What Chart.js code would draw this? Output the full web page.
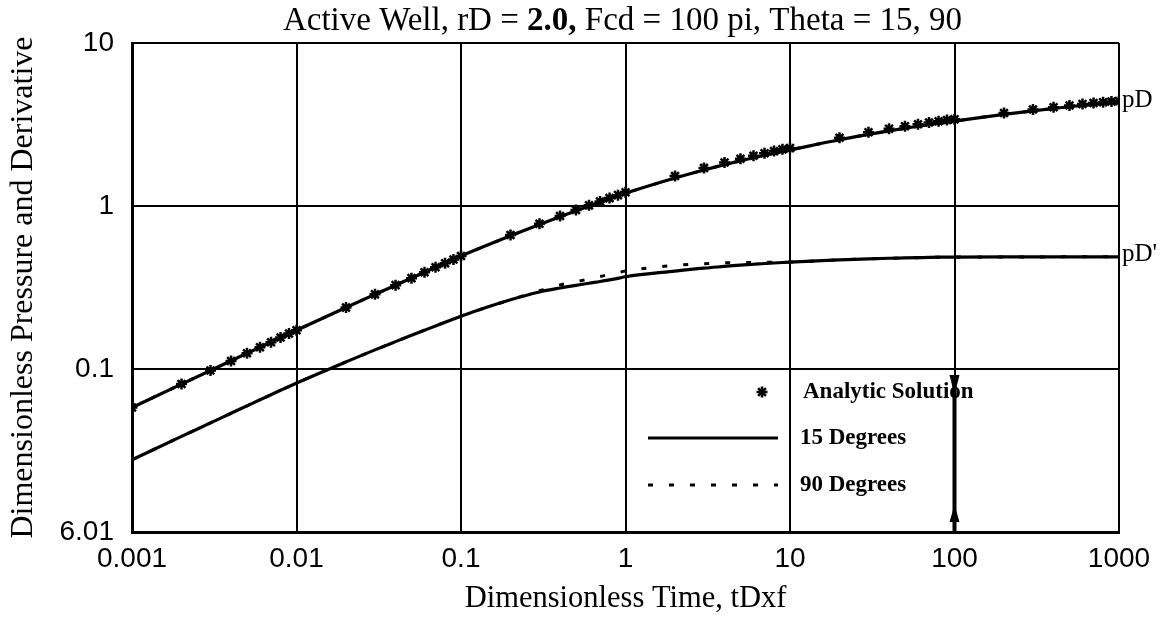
<!DOCTYPE html>
<html lang="en">
<head>
<meta charset="UTF-8">
<title>Active Well, rD = 2.0, Fcd = 100 pi</title>
<script src="https://cdn.jsdelivr.net/npm/chart.js@4"></script>
<style>
  html, body { margin: 0; padding: 0; background: #fff; }
</style>
</head>
<body>
<canvas id="chart" width="1166" height="628"></canvas>
<script>
// dimensionless time, 1..9 per decade
const tDxf = [
  0.001, 0.002, 0.003, 0.004, 0.005, 0.006, 0.007, 0.008, 0.009,
  0.01, 0.02, 0.03, 0.04, 0.05, 0.06, 0.07, 0.08, 0.09,
  0.1, 0.2, 0.3, 0.4, 0.5, 0.6, 0.7, 0.8, 0.9,
  1, 2, 3, 4, 5, 6, 7, 8, 9,
  10, 20, 30, 40, 50, 60, 70, 80, 90,
  100, 200, 300, 400, 500, 600, 700, 800, 900, 1000
];

// pressure, theta = 15 degrees
const pD15 = [
  0.058, 0.0808, 0.098, 0.1123, 0.1248, 0.136, 0.1463, 0.1558, 0.1646,
  0.173, 0.2383, 0.2868, 0.3267, 0.3614, 0.3924, 0.4205, 0.4463, 0.4704,
  0.493, 0.656, 0.770, 0.860, 0.935, 0.999, 1.056, 1.107, 1.154,
  1.197, 1.484, 1.663, 1.793, 1.894, 1.977, 2.048, 2.108, 2.161,
  2.208, 2.549, 2.749, 2.890, 2.998, 3.085, 3.157, 3.218, 3.272,
  3.319, 3.649, 3.836, 3.965, 4.062, 4.140, 4.203, 4.258, 4.304, 4.345
];

// derivative, theta = 15 degrees
const pDprime15 = [
  0.0277, 0.0386, 0.0467, 0.0535, 0.0594, 0.0647, 0.0695, 0.0740, 0.0781,
  0.0820, 0.1106, 0.1310, 0.1472, 0.1610, 0.1730, 0.1838, 0.1936, 0.2025,
  0.211, 0.266, 0.297, 0.314, 0.326, 0.336, 0.344, 0.352, 0.360,
  0.368, 0.399, 0.416, 0.426, 0.434, 0.439, 0.444, 0.447, 0.450,
  0.453, 0.467, 0.474, 0.478, 0.480, 0.482, 0.484, 0.485, 0.485,
  0.486, 0.487, 0.487, 0.487, 0.488, 0.488, 0.488, 0.488, 0.488, 0.488
];

// theta = 90 degrees: pressure lies on the 15 degree curve
const pD90 = pD15;
const pDprime90 = [
  0.0277, 0.0386, 0.0467, 0.0535, 0.0594, 0.0647, 0.0695, 0.0740, 0.0781,
  0.0820, 0.1106, 0.1310, 0.1472, 0.1610, 0.1730, 0.1838, 0.1936, 0.2025,
  0.211, 0.266, 0.302, 0.328, 0.343, 0.357, 0.369, 0.381, 0.391,
  0.399, 0.432, 0.443, 0.448, 0.450, 0.450, 0.451, 0.452, 0.452,
  0.453, 0.467, 0.474, 0.478, 0.480, 0.482, 0.484, 0.485, 0.485,
  0.486, 0.487, 0.487, 0.487, 0.488, 0.488, 0.488, 0.488, 0.488, 0.488
];

// analytic solution for pD
const pDAnalytic = [
  0.058, 0.081, 0.098, 0.112, 0.125, 0.136, 0.146, 0.156, 0.165,
  0.173, 0.238, 0.287, 0.327, 0.361, 0.392, 0.421, 0.446, 0.470,
  0.493, 0.663, 0.778, 0.869, 0.944, 1.009, 1.067, 1.118, 1.166,
  1.215, 1.529, 1.713, 1.847, 1.951, 2.036, 2.109, 2.171, 2.226,
  2.265, 2.625, 2.831, 2.977, 3.088, 3.178, 3.252, 3.315, 3.37,
  3.40, 3.72, 3.91, 4.04, 4.14, 4.22, 4.28, 4.33, 4.37, 4.40
];

const xTickValues = [0.001, 0.01, 0.1, 1, 10, 100, 1000];
const xTickLabels = ['0.001', '0.01', '0.1', '1', '10', '100', '1000'];
const yTickValues = [0.01, 0.1, 1, 10];
const yTickLabels = ['6.01', '0.1', '1', '10'];
const curveLabels = ['pD', "pD'"];
const legendLabels = ['Analytic Solution', '15 Degrees', '90 Degrees'];
const titleParts = [['Active Well, rD = ', 'normal'], ['2.0,', 'bold'], [' Fcd = 100 pi, Theta = 15, 90', 'normal']];

// vertical bar with arrowheads at tDxf = 100
const markerTime = 100;
const markerRange = [0.0115, 0.092];

const SERIF = '"Liberation Serif", "Times New Roman", serif';
const SANS = '"Liberation Sans", Arial, sans-serif';

const pts = (ys) => tDxf.map((x, i) => ({ x, y: ys[i] }));

const overlay = {
  id: 'overlay',
  afterDraw(chart) {
    const { ctx, chartArea, scales } = chart;
    const xs = scales.x, ys = scales.y;
    ctx.save();
    ctx.fillStyle = '#000';
    ctx.strokeStyle = '#000';

    // title, "2.0," set in bold
    ctx.textAlign = 'left';
    ctx.textBaseline = 'alphabetic';
    let total = 0;
    const parts = titleParts.map(([text, weight]) => {
      ctx.font = weight + ' 33px ' + SERIF;
      const w = ctx.measureText(text).width;
      total += w;
      return { text, font: ctx.font, w };
    });
    let tx = (chartArea.left + chartArea.right) / 2 - 3 - total / 2;
    parts.forEach(p => {
      ctx.font = p.font;
      ctx.fillText(p.text, tx, 30);
      tx += p.w;
    });

    // curve names at the right end
    ctx.font = '25px ' + SERIF;
    ctx.textBaseline = 'middle';
    [pD15, pDprime15].forEach((vals, i) => {
      ctx.fillText(curveLabels[i], chartArea.right + 3, ys.getPixelForValue(vals[vals.length - 1]) - 2);
    });

    // legend
    ctx.lineWidth = 2.5;
    Chart.helpers.drawPoint(ctx, { pointStyle: 'star', radius: 5.5, rotation: 0, borderWidth: 2.5 }, 762, 392);
    ctx.lineWidth = 3;
    ctx.beginPath();
    ctx.moveTo(648, 438);
    ctx.lineTo(778, 438);
    ctx.stroke();
    ctx.setLineDash([5, 16]);
    ctx.beginPath();
    ctx.moveTo(648, 485);
    ctx.lineTo(778, 485);
    ctx.stroke();
    ctx.setLineDash([]);
    ctx.font = 'bold 23px ' + SERIF;
    ctx.fillText(legendLabels[0], 803, 392);
    ctx.fillText(legendLabels[1], 800, 438);
    ctx.fillText(legendLabels[2], 800, 485);

    // marker bar
    const mx = xs.getPixelForValue(markerTime);
    const mTop = ys.getPixelForValue(markerRange[1]);
    const mBase = ys.getPixelForValue(markerRange[0]);
    ctx.lineWidth = 4;
    ctx.beginPath();
    ctx.moveTo(mx, mTop);
    ctx.lineTo(mx, chartArea.bottom);
    ctx.stroke();
    ctx.beginPath();
    ctx.moveTo(mx - 5, mTop);
    ctx.lineTo(mx + 5, mTop);
    ctx.lineTo(mx, mTop + 20);
    ctx.closePath();
    ctx.fill();
    ctx.beginPath();
    ctx.moveTo(mx - 5, mBase);
    ctx.lineTo(mx + 5, mBase);
    ctx.lineTo(mx, mBase - 17);
    ctx.closePath();
    ctx.fill();

    ctx.restore();
  }
};

const lineStyle = {
  borderColor: '#000', backgroundColor: '#000', pointRadius: 0, fill: false,
  cubicInterpolationMode: 'monotone'
};

new Chart(document.getElementById('chart'), {
  type: 'line',
  data: {
    datasets: [
      { ...lineStyle, label: '90 Degrees pD', data: pts(pD90), borderWidth: 3, borderDash: [5, 16], order: 2 },
      { ...lineStyle, label: "90 Degrees pD'", data: pts(pDprime90), borderWidth: 3, borderDash: [5, 16], order: 2 },
      { ...lineStyle, label: '15 Degrees pD', data: pts(pD15), borderWidth: 3.2, order: 1 },
      { ...lineStyle, label: "15 Degrees pD'", data: pts(pDprime15), borderWidth: 3.2, order: 1 },
      {
        label: 'Analytic Solution', data: pts(pDAnalytic), showLine: false,
        pointStyle: 'star', pointRadius: 5.5, pointBorderWidth: 2.5,
        pointBorderColor: '#000', pointBackgroundColor: '#000', order: 0
      }
    ]
  },
  options: {
    responsive: false,
    animation: false,
    layout: { padding: { top: 43, right: 47, left: 0, bottom: 0 } },
    plugins: { legend: { display: false }, tooltip: { enabled: false }, title: { display: false } },
    scales: {
      x: {
        type: 'logarithmic',
        min: 0.001,
        max: 1000,
        afterBuildTicks: (scale) => { scale.ticks = xTickValues.map(v => ({ value: v })); },
        afterFit: (scale) => { scale.height = 96; },
        ticks: {
          color: '#000',
          font: { family: SANS, size: 28 },
          padding: 10,
          maxRotation: 0,
          autoSkip: false,
          callback: (v, i) => xTickLabels[i]
        },
        grid: { color: '#000', lineWidth: 2, drawTicks: false },
        border: { color: '#000', width: 3 },
        title: {
          display: true,
          text: 'Dimensionless Time, tDxf',
          color: '#000',
          font: { family: SERIF, size: 30.5 },
          padding: { top: 0, bottom: 11 }
        }
      },
      y: {
        type: 'logarithmic',
        min: 0.01,
        max: 10,
        afterBuildTicks: (scale) => { scale.ticks = yTickValues.map(v => ({ value: v })); },
        afterFit: (scale) => { scale.width = 132; },
        ticks: {
          color: '#000',
          font: { family: SANS, size: 28 },
          padding: 18,
          autoSkip: false,
          callback: (v, i) => yTickLabels[i]
        },
        grid: { color: '#000', lineWidth: 2, drawTicks: false },
        border: { color: '#000', width: 3 },
        title: {
          display: true,
          text: 'Dimensionless Pressure and Derivative',
          color: '#000',
          font: { family: SERIF, size: 32 },
          padding: { top: 4, bottom: 0 }
        }
      }
    }
  },
  plugins: [overlay]
});
</script>
</body>
</html>
